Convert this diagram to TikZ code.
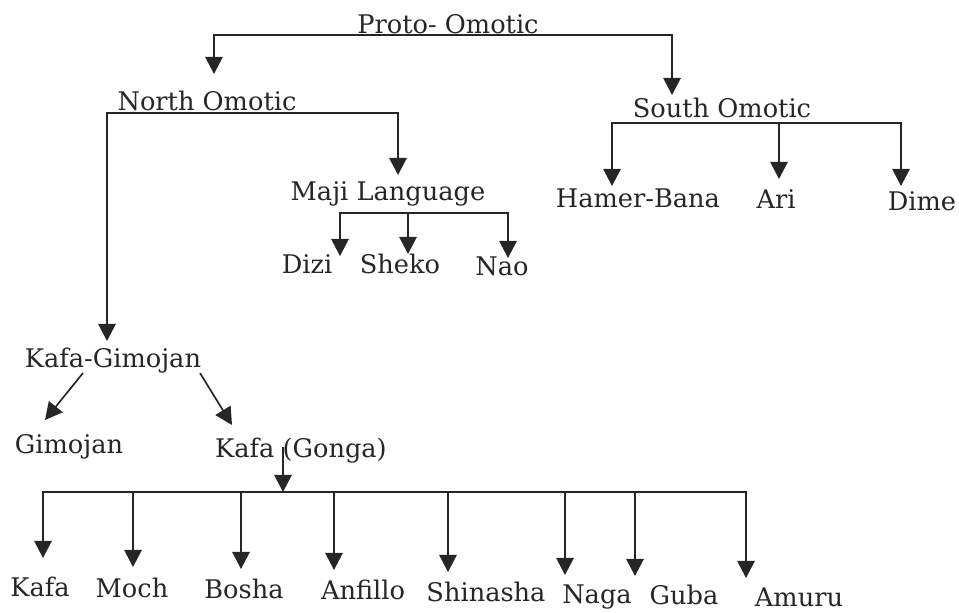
\documentclass[tikz,border=0pt]{standalone}
\usepackage{fontspec}
\setmainfont{DejaVu Serif}
\usetikzlibrary{arrows.meta}

\begin{document}
\begin{tikzpicture}[x=0.02cm, y=-0.02cm,
  lang/.style={anchor=base, inner sep=0pt, text=black!85, font=\fontsize{14.6}{18}\selectfont},
  branch/.style={draw=black!85, line width=0.95pt, -{Triangle[length=9.8pt,width=10pt]}}]
\useasboundingbox (0,0) rectangle (959,612);

% languages
\node[lang] (proto) at (448,33) {Proto- Omotic};
\node[lang] (north) at (207,110) {North Omotic};
\node[lang] (south) at (722,117) {South Omotic};
\node[lang] (maji) at (388,200) {Maji Language};
\node[lang] (dizi) at (307,273) {Dizi};
\node[lang] (sheko) at (400,273) {Sheko};
\node[lang] (nao) at (502,275) {Nao};
\node[lang] (hamer) at (638,207) {Hamer-Bana};
\node[lang] (ari) at (776,208) {Ari};
\node[lang] (dime) at (922,210) {Dime};
\node[lang] (kafagim) at (113,367) {Kafa-Gimojan};
\node[lang] (gimojan) at (69,453) {Gimojan};
\node[lang] (gonga) at (301,457) {Kafa (Gonga)};
\node[lang] (kafa) at (40,596) {Kafa};
\node[lang] (moch) at (132,597) {Moch};
\node[lang] (bosha) at (244,598) {Bosha};
\node[lang] (anfillo) at (363,599) {Anfillo};
\node[lang] (shinasha) at (486,601) {Shinasha};
\node[lang] (naga) at (597,603) {Naga};
\node[lang] (guba) at (684,604) {Guba};
\node[lang] (amuru) at (799,606) {Amuru};

% junctions and arrow tips
\coordinate (pj) at (448,35);
\coordinate (nj) at (207,113);
\coordinate (sj) at (722,123);
\coordinate (mj) at (388,213);
\coordinate (kj) at (283,492);
\coordinate (tnorth) at (214,74);
\coordinate (tsouth) at (672,95);
\coordinate (tkafagim) at (107,341);
\coordinate (tmaji) at (398,175);
\coordinate (tdizi) at (340,256);
\coordinate (tsheko) at (408,254);
\coordinate (tnao) at (508,258);
\coordinate (thamer) at (612,186);
\coordinate (tari) at (779,179);
\coordinate (tdime) at (901,186);
\coordinate (tkafa) at (43,558);
\coordinate (tmoch) at (133,567);
\coordinate (tbosha) at (241,569);
\coordinate (tanfillo) at (334,570);
\coordinate (tshinasha) at (448,572);
\coordinate (tnaga) at (565,575);
\coordinate (tguba) at (635,576);
\coordinate (tamuru) at (746,578);

% Proto- Omotic
\draw[branch] (pj) -| (tnorth);
\draw[branch] (pj) -| (tsouth);
% North Omotic
\draw[branch] (nj) -| (tkafagim);
\draw[branch] (nj) -| (tmaji);
% Maji
\draw[branch] (mj) -| (tdizi);
\draw[branch] (mj) -| (tsheko);
\draw[branch] (mj) -| (tnao);
% South Omotic
\draw[branch] (sj) -| (thamer);
\draw[branch] (sj) -| (tari);
\draw[branch] (sj) -| (tdime);
% Kafa-Gimojan
\draw[branch] ([shift={(-30,6)}]kafagim.base) -- ([shift={(-24,-33)}]gimojan.base);
\draw[branch] ([shift={(87,6)}]kafagim.base) -- ([shift={(-69,-32)}]gonga.base);
% Kafa (Gonga)
\draw[branch] ([shift={(-18,-10)}]gonga.base) -- (kj);
\draw[branch] (kj) -| (tkafa);
\draw[branch] (kj) -| (tmoch);
\draw[branch] (kj) -| (tbosha);
\draw[branch] (kj) -| (tanfillo);
\draw[branch] (kj) -| (tshinasha);
\draw[branch] (kj) -| (tnaga);
\draw[branch] (kj) -| (tguba);
\draw[branch] (kj) -| (tamuru);

\end{tikzpicture}
\end{document}
